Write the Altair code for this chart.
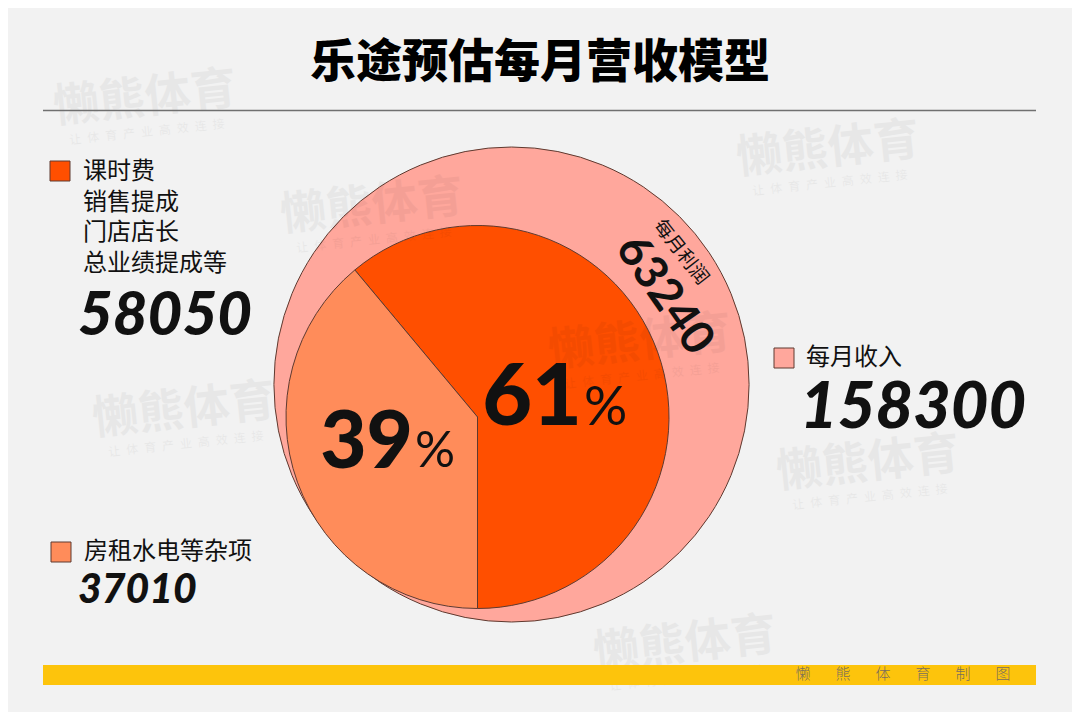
import math
import altair as alt
import pandas as pd

# ---------------- data ----------------
title_text = "乐途预估每月营收模型"
cost_names = ["课时费等", "房租水电等杂项"]
cost_values = [58050, 37010]
cost_colors = ["#FF4F00", "#FF8C5A"]
income_name = "每月收入"
income_value = 158300
income_color = "#FFA79C"
profit_label = "每月利润"
profit_value = 63240
legend1_lines = ["课时费", "销售提成", "门店店长", "总业绩提成等"]
legend2_label = "房租水电等杂项"
footer_chars = ["懒", "熊", "体", "育", "制", "图"]
watermark_text = "懒熊体育"
tagline_text = "让\u2002体\u2002育\u2002产\u2002业\u2002高\u2002效\u2002连\u2002接"

# ---------------- layout helpers ----------------
W, H = 1064, 704
OFF = 8  # page margin


def px(v):
    return v - OFF


CJK = "Noto Sans CJK SC"
NUM = "Lato"
EDGE = "#5e3a30"

total_cost = sum(cost_values)
share0 = cost_values[0] / total_cost
start = 3 * math.pi - 2 * math.pi * share0  # split line falls straight down

pie_df = pd.DataFrame({
    "name": cost_names,
    "value": cost_values,
    "order": [0, 1],
    "pct": [round(v / total_cost * 100) for v in cost_values],
})
income_df = pd.DataFrame({"name": [income_name], "value": [income_value]})
one = pd.DataFrame({"a": [0]})


def text_layer(txt, x, y, size, font=CJK, weight=400, style="normal", align="left",
               baseline="middle", angle=0, color="#111111", opacity=1.0):
    return alt.Chart(pd.DataFrame({"t": [txt]})).mark_text(
        font=font, fontSize=size, fontWeight=weight, fontStyle=style, align=align,
        baseline=baseline, angle=angle % 360, color=color, opacity=opacity,
    ).encode(text="t:N", x=alt.value(px(x)), y=alt.value(px(y)))


layers = []

# outer circle: monthly income
layers.append(
    alt.Chart(income_df).mark_arc(radius=237.5, stroke=EDGE, strokeWidth=1, fill=income_color).encode(
        theta=alt.Theta("value:Q", stack=True),
        x=alt.value(px(511.5)), y=alt.value(px(384.5)),
    )
)

# inner pie: costs
layers.append(
    alt.Chart(pie_df).mark_arc(radius=191.5, stroke=EDGE, strokeWidth=1).encode(
        theta=alt.Theta("value:Q", stack=True,
                        scale=alt.Scale(range=[start, start + 2 * math.pi])),
        color=alt.Color("name:N", scale=alt.Scale(domain=cost_names, range=cost_colors), legend=None),
        order=alt.Order("order:Q"),
        x=alt.value(px(477.5)), y=alt.value(px(417)),
    )
)

# faint watermarks (drawn under the text)
wm_pos = [(145, 99), (372, 207), (828, 150), (184, 411), (868, 464), (640, 343), (685, 645)]
for (x, y) in wm_pos:
    layers.append(text_layer(watermark_text, x, y, 46, weight=700, align="center", angle=-6,
                             color="#000000", opacity=0.04))
    layers.append(text_layer(tagline_text, x + 2, y + 33, 12, align="center", angle=-6,
                             color="#000000", opacity=0.04))

# title + rule
layers.append(text_layer(title_text, 540, 63, 46, weight=900, align="center", color="#000000"))
layers.append(
    alt.Chart(one).mark_rule(color="#707070", strokeWidth=1.5).encode(
        x=alt.value(px(43)), x2=alt.value(px(1036)), y=alt.value(px(110.5))
    )
)

# legend squares
for (x0, y0), col in [((50, 161), cost_colors[0]), ((51, 542), cost_colors[1]), ((774, 348), income_color)]:
    layers.append(
        alt.Chart(one).mark_rect(fill=col, stroke=EDGE, strokeWidth=1).encode(
            x=alt.value(px(x0)), x2=alt.value(px(x0 + 20)),
            y=alt.value(px(y0)), y2=alt.value(px(y0 + 20)),
        )
    )

# legend labels
for i, line in enumerate(legend1_lines):
    layers.append(text_layer(line, 83, 172 + i * 30.5, 24))
layers.append(text_layer(legend2_label, 84, 552, 24))
layers.append(text_layer(income_name, 806, 358, 24))

# big numbers
layers.append(text_layer(f"{cost_values[0]}", 78, 335, 60, font=NUM, weight=900, style="italic",
                         baseline="alphabetic"))
layers.append(text_layer(f"{cost_values[1]}", 78, 603, 41, font=NUM, weight=900, style="italic",
                         baseline="alphabetic"))
layers.append(text_layer(f"{income_value}", 800, 428, 65, font=NUM, weight=900, style="italic",
                         baseline="alphabetic"))

# percentages inside pie
layers.append(text_layer(f"{pie_df.pct[0]}", 582, 425, 86, font=NUM, weight=900, align="right",
                         baseline="alphabetic"))
layers.append(text_layer("%", 584, 425, 54, font=NUM, weight=400, baseline="alphabetic"))
layers.append(text_layer(f"{pie_df.pct[1]}", 413, 468, 80, font=NUM, weight=900, align="right",
                         baseline="alphabetic"))
layers.append(text_layer("%", 415, 467, 50, font=NUM, weight=400, baseline="alphabetic"))

# profit label along ring
layers.append(text_layer(profit_label, 681, 252, 19, align="center", angle=52))
layers.append(text_layer(f"{profit_value}", 664.5, 295, 46, font=NUM, weight=700, align="center", angle=55))

# footer bar
layers.append(
    alt.Chart(one).mark_rect(fill="#FDC40C").encode(
        x=alt.value(px(43)), x2=alt.value(px(1036)), y=alt.value(px(665)), y2=alt.value(px(685))
    )
)
foot_df = pd.DataFrame({"c": footer_chars, "i": list(range(len(footer_chars)))})
layers.append(
    alt.Chart(foot_df).mark_text(font=CJK, fontSize=15, fontWeight=300, color="#7a6f5c").encode(
        text="c:N",
        x=alt.X("i:Q", axis=None, scale=alt.Scale(domain=[0, len(footer_chars) - 1], range=[px(803), px(1003)])),
        y=alt.value(px(674)),
    )
)

chart = alt.layer(*layers).resolve_scale(theta="independent", color="independent").properties(
    width=W, height=H, padding=0, autosize=alt.AutoSizeParams(type="none"),
).configure(background="#F2F2F2").configure_view(stroke=None)

chart.save("out.html", embed_options={"renderer": "svg", "actions": False})
